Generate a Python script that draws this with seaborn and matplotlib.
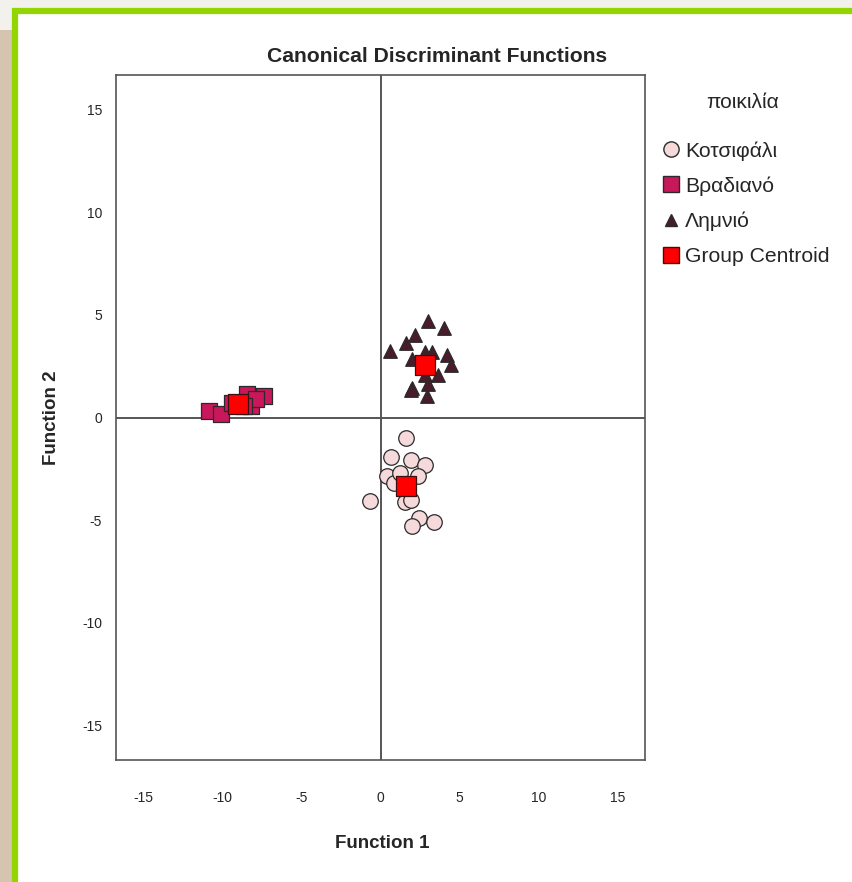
import numpy as np
import pandas as pd
import matplotlib
matplotlib.use("Agg")
import matplotlib.pyplot as plt
from matplotlib import font_manager
from matplotlib.patches import Rectangle
from matplotlib.lines import Line2D
import seaborn as sns

# Data
kotsifali_f1 = [1.64, 0.69, 1.90, 2.78, 0.38, 2.34, 0.88, -0.69, 1.52, 1.90, 2.46, 3.35, 1.96, 1.26]
kotsifali_f2 = [-1.02, -1.95, -2.09, -2.34, -2.87, -2.87, -3.17, -4.09, -4.14, -4.04, -4.92, -5.11, -5.31, -2.73]

vradiano_f1 = [-10.8, -10.1, -9.35, -8.46, -8.15, -7.33, -7.83, -8.6]
vradiano_f2 = [0.34, 0.15, 0.73, 1.17, 0.58, 1.07, 0.88, 0.54]

limnio_f1 = [0.57, 1.64, 2.15, 2.97, 4.04, 2.02, 2.84, 3.28, 4.17, 4.42, 3.60, 2.78, 2.02, 3.03, 1.90, 2.91]
limnio_f2 = [3.26, 3.65, 4.04, 4.72, 4.38, 2.83, 3.21, 3.17, 3.07, 2.58, 2.05, 2.05, 1.46, 1.61, 1.32, 1.07]

groups = ["Κοτσιφάλι", "Βραδιανό", "Λημνιό"]
centroid_f1 = [1.64, -8.97, 2.78]
centroid_f2 = [-3.36, 0.68, 2.58]

ticks = [-15, -10, -5, 0, 5, 10, 15]

df = pd.DataFrame({
    "f1": kotsifali_f1 + vradiano_f1 + limnio_f1,
    "f2": kotsifali_f2 + vradiano_f2 + limnio_f2,
    "group": [groups[0]] * len(kotsifali_f1) + [groups[1]] * len(vradiano_f1) + [groups[2]] * len(limnio_f1),
})
cent = pd.DataFrame({"f1": centroid_f1, "f2": centroid_f2})

colors = {groups[0]: "#F6D9DA", groups[1]: "#C8175B", groups[2]: "#4A1C2B"}
markers = {groups[0]: "o", groups[1]: "s", groups[2]: "^"}
sizes = {groups[0]: 125, groups[1]: 145, groups[2]: 95}

sns.set_theme(style="white")
installed = {f.name for f in font_manager.fontManager.ttflist}
base = "Liberation Sans Narrow" if "Liberation Sans Narrow" in installed else "Liberation Sans"
plt.rcParams["font.family"] = [base, "DejaVu Sans"]

fig = plt.figure(figsize=(8.52, 8.82), dpi=100, facecolor="#F3F1EC")
# page frame
fig.patches.append(Rectangle((0, 0), 14 / 852, 1 - 30 / 882, transform=fig.transFigure,
                             facecolor="#D5C4AF", edgecolor="none", zorder=0))
fig.patches.append(Rectangle((15 / 852, -0.05), 1.0, 1 - 11 / 882 + 0.05, transform=fig.transFigure,
                             facecolor="white", edgecolor="#92D500", linewidth=4.5, zorder=1))

ax = fig.add_axes([116 / 852, 122 / 882, 529 / 852, 685 / 882])
ax.set_zorder(2)
ax.set_facecolor("white")

ax.axhline(0, color="#555555", lw=1.4, zorder=1)
ax.axvline(0, color="#555555", lw=1.4, zorder=1)

for g in groups:
    sub = df[df["group"] == g]
    sns.scatterplot(data=sub, x="f1", y="f2", ax=ax, marker=markers[g], s=sizes[g],
                    color=colors[g], edgecolor="#2A2A2A", linewidth=0.9, legend=False, zorder=3)
sns.scatterplot(data=cent, x="f1", y="f2", ax=ax, marker="s", s=200, color="#FF0000",
                edgecolor="#3A1010", linewidth=0.9, legend=False, zorder=4)

ax.set_xlim(-16.7, 16.7)
ax.set_ylim(-16.7, 16.7)
ax.set_xticks(ticks)
ax.set_yticks(ticks)
ax.set_xticklabels([str(t) for t in ticks], fontsize=10)
ax.set_yticklabels([str(t) for t in ticks], fontsize=10)
ax.tick_params(axis="both", direction="out", length=5, width=0.9, color="#444444")
ax.tick_params(axis="x", pad=17)
ax.tick_params(axis="y", pad=5)
for sp in ax.spines.values():
    sp.set_color("#555555")
    sp.set_linewidth(1.2)

ax.set_xlabel("Function 1", fontsize=13.5, fontweight="bold", va="center")
ax.set_ylabel("Function 2", fontsize=13.5, fontweight="bold", va="center")
ax.xaxis.set_label_coords((382 - 116) / 529, (760 - 843) / 685)
ax.yaxis.set_label_coords((51 - 116) / 529, (760 - 418) / 685)
fig.text(437 / 852, 1 - 56 / 882, "Canonical Discriminant Functions", ha="center", va="center",
         fontsize=15.2, fontweight="bold", zorder=5)

handles = [
    Line2D([], [], marker="o", linestyle="", markersize=11, markerfacecolor=colors[groups[0]], markeredgecolor="#2A2A2A"),
    Line2D([], [], marker="s", linestyle="", markersize=11, markerfacecolor=colors[groups[1]], markeredgecolor="#2A2A2A"),
    Line2D([], [], marker="^", linestyle="", markersize=8, markerfacecolor=colors[groups[2]], markeredgecolor="#2A2A2A"),
    Line2D([], [], marker="s", linestyle="", markersize=11, markerfacecolor="#FF0000", markeredgecolor="#3A1010"),
]
labels = groups + ["Group Centroid"]
fig.text(743 / 852, 1 - 103 / 882, "ποικιλία", ha="center", va="center", fontsize=15, zorder=5)
leg = fig.legend(handles, labels, loc="upper left",
                 bbox_to_anchor=(661 / 852, 1 - 141 / 882), frameon=False,
                 fontsize=15.2, handletextpad=0.25, labelspacing=0.75,
                 handlelength=0.9, borderaxespad=0, borderpad=0)
leg.set_zorder(5)

fig.savefig("out.png", dpi=100, facecolor=fig.get_facecolor())
